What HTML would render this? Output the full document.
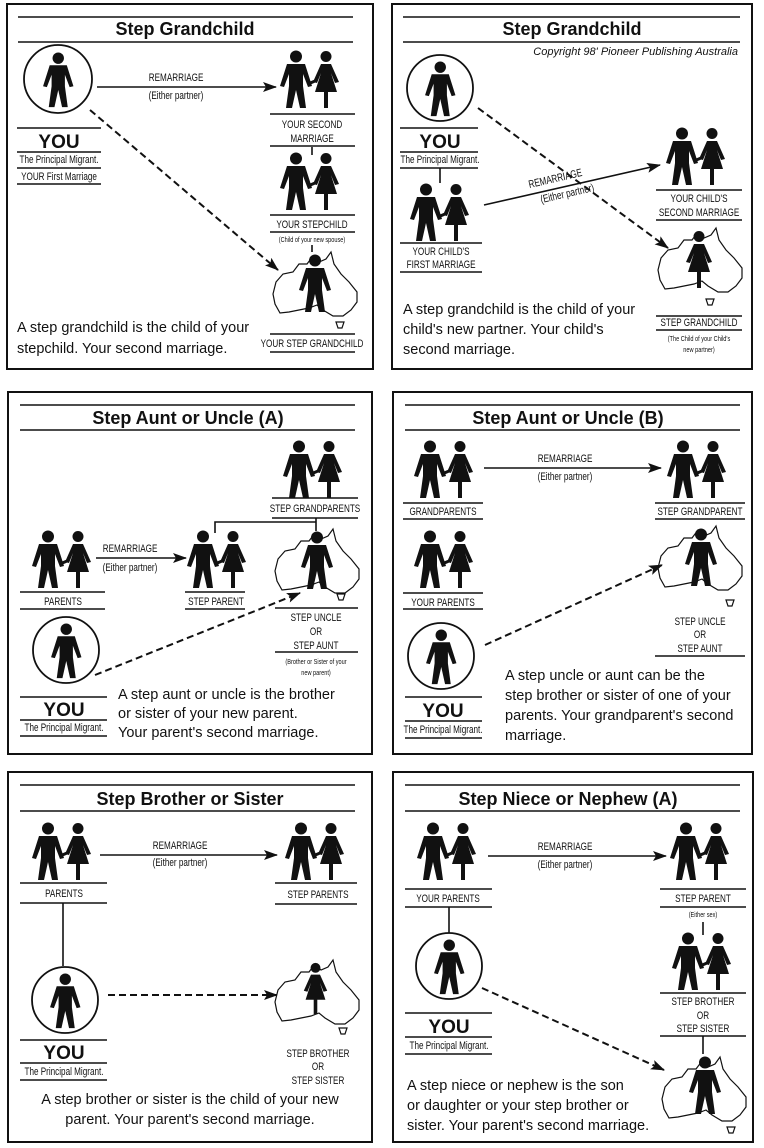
<!DOCTYPE html>
<html><head><meta charset="utf-8"><style>
html,body{margin:0;padding:0;background:#fff}
svg{display:block}
text{font-family:"Liberation Sans",Arial,sans-serif;fill:#111}
.t{font-size:18px;font-weight:bold;text-anchor:middle}
.l{font-size:11px;text-anchor:middle;transform-box:fill-box;transform-origin:center;transform:scaleX(0.74)}
.s{font-size:7px;text-anchor:middle;transform-box:fill-box;transform-origin:center;transform:scaleX(0.8)}
.b{font-size:14.5px}
.y{font-size:19px;font-weight:bold;text-anchor:middle}
.c{font-size:11px;font-style:italic;text-anchor:end}
line,.ln{stroke:#111;stroke-width:1.6}
.d{stroke:#111;stroke-width:2;stroke-dasharray:7 4;fill:none}
.a{stroke:#111;stroke-width:1.6;fill:none}
rect.box{fill:none;stroke:#111;stroke-width:2}
circle.o{fill:none;stroke:#111;stroke-width:1.8}
</style></head><body>
<svg width="764" height="1148" viewBox="0 0 764 1148" xmlns="http://www.w3.org/2000/svg">
<defs>
<g id="man"><circle cx="15" cy="6.5" r="6" fill="#111"/><path d="M6,14 L24,14 L31,36 L27,37 L22,24 L22,36 L25,58 L19,58 L15,40 L11,58 L5,58 L8,36 L8,24 L3,37 L-1,36 Z" fill="#111"/></g>
<g id="woman"><circle cx="15" cy="6.5" r="5.5" fill="#111"/><path d="M10,14 L20,14 L28,32 L24,33 L20,23 L26,42 L17,42 L17,58 L13,58 L13,42 L4,42 L10,23 L6,33 L2,32 Z" fill="#111"/></g>
<g id="couple"><use href="#man"/><use href="#woman" x="30"/><line x1="27" y1="34" x2="34" y2="31" style="stroke-width:3"/></g>
<g id="map"><path d="M5,32 L12,24 L22,22 L28,14 L36,14 L42,6 L48,12 L55,9 L60,2 L63,14 L70,24 L78,32 L86,42 L86,52 L80,60 L72,66 L62,66 L52,60 L46,55 L38,58 L28,60 L18,62 L9,63 L4,54 L2,44 Z" fill="#fff" stroke="#111" stroke-width="1.2"/></g>
<g id="tas"><path d="M0,0 L8,0 L6,6 L2,6 Z" fill="none" stroke="#111" stroke-width="1.2"/></g>
<marker id="ar" markerWidth="14" markerHeight="10" refX="13" refY="5" orient="auto" markerUnits="userSpaceOnUse"><path d="M0,0 L14,5 L0,10 L3,5 Z" fill="#111"/></marker>
</defs>

<!-- Panel 1 -->
<rect class="box" x="7" y="4" width="366" height="365"/>
<line x1="18" y1="17" x2="353" y2="17"/><line x1="18" y1="42" x2="353" y2="42"/>
<text class="t" x="185" y="35">Step Grandchild</text>
<circle class="o" cx="58" cy="79" r="34"/>
<use href="#man" transform="translate(44,52) scale(0.95)"/>
<line x1="17" y1="128" x2="101" y2="128"/><text class="y" x="59" y="148">YOU</text>
<line x1="17" y1="152" x2="101" y2="152"/><text class="l" x="59" y="163">The Principal Migrant.</text>
<line x1="17" y1="168" x2="101" y2="168"/><text class="l" x="59" y="180">YOUR First Marriage</text>
<line x1="17" y1="184" x2="101" y2="184"/>
<line x1="97" y1="87" x2="276" y2="87" marker-end="url(#ar)"/>
<text class="l" x="176" y="81">REMARRIAGE</text><text class="l" x="176" y="99">(Either partner)</text>
<use href="#couple" transform="translate(281,50)"/>
<line x1="270" y1="114" x2="355" y2="114"/><text class="l" x="312" y="128">YOUR SECOND</text><text class="l" x="312" y="142">MARRIAGE</text>
<line x1="270" y1="146" x2="355" y2="146"/><line x1="312" y1="147" x2="312" y2="155"/>
<use href="#couple" transform="translate(281,152)"/>
<line x1="270" y1="215" x2="355" y2="215"/><text class="l" x="312" y="228">YOUR STEPCHILD</text>
<line x1="270" y1="232" x2="355" y2="232"/><text class="s" x="312" y="242">(Child of your new spouse)</text>
<line x1="312" y1="245" x2="312" y2="252"/>
<use href="#map" transform="translate(271,250)"/>
<use href="#man" transform="translate(300,254)"/>
<use href="#tas" transform="translate(336,322)"/>
<line x1="270" y1="334" x2="355" y2="334"/><text class="l" x="312" y="347">YOUR STEP GRANDCHILD</text>
<line x1="270" y1="352" x2="355" y2="352"/>
<line class="d" x1="90" y1="110" x2="278" y2="270" marker-end="url(#ar)"/>
<text class="b" x="17" y="332">A step grandchild is the child of your</text>
<text class="b" x="17" y="353">stepchild. Your second marriage.</text>

<!-- Panel 2 -->
<rect class="box" x="392" y="4" width="360" height="365"/>
<line x1="403" y1="17" x2="740" y2="17"/><line x1="403" y1="42" x2="740" y2="42"/>
<text class="t" x="572" y="35">Step Grandchild</text>
<text class="c" x="738" y="55">Copyright 98' Pioneer Publishing Australia</text>
<circle class="o" cx="440" cy="88" r="33"/>
<use href="#man" transform="translate(426,61) scale(0.95)"/>
<line x1="400" y1="128" x2="478" y2="128"/><text class="y" x="440" y="148">YOU</text>
<line x1="400" y1="152" x2="478" y2="152"/><text class="l" x="440" y="163">The Principal Migrant.</text>
<line x1="400" y1="168" x2="478" y2="168"/><line x1="440" y1="168" x2="440" y2="183"/>
<use href="#couple" transform="translate(411,183)"/>
<line x1="400" y1="243" x2="482" y2="243"/><text class="l" x="441" y="255">YOUR CHILD'S</text><text class="l" x="441" y="268">FIRST MARRIAGE</text>
<line x1="400" y1="272" x2="482" y2="272"/>
<line x1="484" y1="205" x2="660" y2="165" marker-end="url(#ar)"/>
<g transform="translate(556,182) rotate(-13)"><text class="l" x="0" y="0">REMARRIAGE</text></g>
<g transform="translate(568,197) rotate(-13)"><text class="l" x="0" y="0">(Either partner)</text></g>
<use href="#couple" transform="translate(667,127)"/>
<line x1="656" y1="190" x2="742" y2="190"/><text class="l" x="699" y="202">YOUR CHILD'S</text><text class="l" x="699" y="216">SECOND MARRIAGE</text>
<line x1="656" y1="220" x2="742" y2="220"/>
<use href="#map" transform="translate(656,226)"/>
<use href="#woman" transform="translate(684,230)"/>
<use href="#tas" transform="translate(706,299)"/>
<line class="d" x1="478" y1="108" x2="668" y2="248" marker-end="url(#ar)"/>
<line x1="656" y1="316" x2="742" y2="316"/><text class="l" x="699" y="326">STEP GRANDCHILD</text>
<line x1="656" y1="330" x2="742" y2="330"/><text class="s" x="699" y="341">(The Child of your Child's</text><text class="s" x="699" y="352">new partner)</text>
<text class="b" x="403" y="314">A step grandchild is the child of your</text>
<text class="b" x="403" y="334">child's new partner. Your child's</text>
<text class="b" x="403" y="354">second marriage.</text>

<!-- Panel 3 -->
<rect class="box" x="8" y="392" width="364" height="362"/>
<line x1="20" y1="405" x2="355" y2="405"/><line x1="20" y1="430" x2="355" y2="430"/>
<text class="t" x="188" y="424">Step Aunt or Uncle (A)</text>
<use href="#couple" transform="translate(284,440)"/>
<line x1="272" y1="498" x2="358" y2="498"/><text class="l" x="315" y="512">STEP GRANDPARENTS</text>
<line x1="272" y1="518" x2="358" y2="518"/>
<polyline class="a" points="215,533 215,522 316,522"/><line x1="316" y1="518" x2="316" y2="531"/>
<use href="#couple" transform="translate(33,530)"/>
<line x1="20" y1="592" x2="105" y2="592"/><text class="l" x="63" y="605">PARENTS</text>
<line x1="20" y1="609" x2="105" y2="609"/>
<line x1="96" y1="558" x2="186" y2="558" marker-end="url(#ar)"/>
<text class="l" x="130" y="552">REMARRIAGE</text><text class="l" x="130" y="571">(Either partner)</text>
<use href="#couple" transform="translate(188,530)"/>
<line x1="185" y1="592" x2="245" y2="592"/><text class="l" x="216" y="605">STEP PARENT</text>
<line x1="185" y1="609" x2="245" y2="609"/>
<use href="#map" transform="translate(273,527)"/>
<use href="#man" transform="translate(302,531)"/>
<use href="#tas" transform="translate(337,594)"/>
<line x1="275" y1="608" x2="358" y2="608"/>
<text class="l" x="316" y="621">STEP UNCLE</text><text class="l" x="316" y="635">OR</text><text class="l" x="316" y="649">STEP AUNT</text>
<line x1="275" y1="652" x2="358" y2="652"/>
<text class="s" x="316" y="664">(Brother or Sister of your</text><text class="s" x="316" y="675">new parent)</text>
<circle class="o" cx="66" cy="650" r="33"/>
<use href="#man" transform="translate(52,623) scale(0.95)"/>
<line x1="20" y1="697" x2="107" y2="697"/><text class="y" x="64" y="716">YOU</text>
<line x1="20" y1="720" x2="107" y2="720"/><text class="l" x="64" y="731">The Principal Migrant.</text>
<line x1="20" y1="736" x2="107" y2="736"/>
<line class="d" x1="95" y1="675" x2="300" y2="593" marker-end="url(#ar)"/>
<text class="b" x="118" y="699">A step aunt or uncle is the brother</text>
<text class="b" x="118" y="718">or sister of your new parent.</text>
<text class="b" x="118" y="737">Your parent's second marriage.</text>

<!-- Panel 4 -->
<rect class="box" x="393" y="392" width="359" height="362"/>
<line x1="405" y1="405" x2="740" y2="405"/><line x1="405" y1="430" x2="740" y2="430"/>
<text class="t" x="568" y="424">Step Aunt or Uncle (B)</text>
<use href="#couple" transform="translate(415,440)"/>
<line x1="403" y1="503" x2="483" y2="503"/><text class="l" x="443" y="515">GRANDPARENTS</text>
<line x1="403" y1="519" x2="483" y2="519"/>
<line x1="484" y1="468" x2="661" y2="468" marker-end="url(#ar)"/>
<text class="l" x="565" y="462">REMARRIAGE</text><text class="l" x="565" y="480">(Either partner)</text>
<use href="#couple" transform="translate(668,440)"/>
<line x1="655" y1="503" x2="745" y2="503"/><text class="l" x="700" y="515">STEP GRANDPARENT</text>
<line x1="655" y1="519" x2="745" y2="519"/>
<use href="#couple" transform="translate(415,530)"/>
<line x1="403" y1="593" x2="483" y2="593"/><text class="l" x="443" y="606">YOUR PARENTS</text>
<line x1="403" y1="609" x2="483" y2="609"/>
<use href="#map" transform="translate(656,524)"/>
<use href="#man" transform="translate(686,528)"/>
<use href="#tas" transform="translate(726,600)"/>
<text class="l" x="700" y="625">STEP UNCLE</text><text class="l" x="700" y="638">OR</text><text class="l" x="700" y="652">STEP AUNT</text>
<line x1="655" y1="656" x2="745" y2="656"/>
<circle class="o" cx="441" cy="656" r="33"/>
<use href="#man" transform="translate(427,629) scale(0.95)"/>
<line x1="405" y1="697" x2="482" y2="697"/><text class="y" x="443" y="717">YOU</text>
<line x1="405" y1="721" x2="482" y2="721"/><text class="l" x="443" y="733">The Principal Migrant.</text>
<line x1="405" y1="738" x2="482" y2="738"/>
<line class="d" x1="485" y1="645" x2="662" y2="565" marker-end="url(#ar)"/>
<text class="b" x="505" y="680">A step uncle or aunt can be the</text>
<text class="b" x="505" y="700">step brother or sister of one of your</text>
<text class="b" x="505" y="720">parents. Your grandparent's second</text>
<text class="b" x="505" y="740">marriage.</text>

<!-- Panel 5 -->
<rect class="box" x="8" y="772" width="364" height="370"/>
<line x1="20" y1="785" x2="355" y2="785"/><line x1="20" y1="811" x2="355" y2="811"/>
<text class="t" x="190" y="805">Step Brother or Sister</text>
<use href="#couple" transform="translate(33,822)"/>
<line x1="20" y1="883" x2="107" y2="883"/><text class="l" x="64" y="897">PARENTS</text>
<line x1="20" y1="903" x2="107" y2="903"/>
<line x1="100" y1="855" x2="277" y2="855" marker-end="url(#ar)"/>
<text class="l" x="180" y="849">REMARRIAGE</text><text class="l" x="180" y="866">(Either partner)</text>
<use href="#couple" transform="translate(286,822)"/>
<line x1="275" y1="883" x2="357" y2="883"/><text class="l" x="318" y="898">STEP PARENTS</text>
<line x1="275" y1="904" x2="357" y2="904"/>
<line x1="63" y1="903" x2="63" y2="966"/>
<circle class="o" cx="65" cy="1000" r="33"/>
<use href="#man" transform="translate(51,973) scale(0.95)"/>
<line x1="20" y1="1040" x2="107" y2="1040"/><text class="y" x="64" y="1059">YOU</text>
<line x1="20" y1="1063" x2="107" y2="1063"/><text class="l" x="64" y="1075">The Principal Migrant.</text>
<line x1="20" y1="1080" x2="107" y2="1080"/>
<line class="d" x1="108" y1="995" x2="277" y2="995" marker-end="url(#ar)"/>
<use href="#map" transform="translate(273,958)"/>
<use href="#woman" transform="translate(302,962) scale(0.9)"/>
<use href="#tas" transform="translate(339,1028)"/>
<text class="l" x="318" y="1057">STEP BROTHER</text><text class="l" x="318" y="1070">OR</text><text class="l" x="318" y="1084">STEP SISTER</text>
<text class="b" x="190" y="1104" style="text-anchor:middle">A step brother or sister is the child of your new</text>
<text class="b" x="190" y="1124" style="text-anchor:middle">parent. Your parent's second marriage.</text>

<!-- Panel 6 -->
<rect class="box" x="393" y="772" width="360" height="370"/>
<line x1="405" y1="785" x2="740" y2="785"/><line x1="405" y1="811" x2="740" y2="811"/>
<text class="t" x="568" y="805">Step Niece or Nephew (A)</text>
<use href="#couple" transform="translate(418,822)"/>
<line x1="405" y1="889" x2="492" y2="889"/><text class="l" x="448" y="902">YOUR PARENTS</text>
<line x1="405" y1="907" x2="492" y2="907"/>
<line x1="488" y1="856" x2="666" y2="856" marker-end="url(#ar)"/>
<text class="l" x="565" y="850">REMARRIAGE</text><text class="l" x="565" y="868">(Either partner)</text>
<use href="#couple" transform="translate(671,822)"/>
<line x1="660" y1="889" x2="746" y2="889"/><text class="l" x="703" y="902">STEP PARENT</text>
<line x1="660" y1="907" x2="746" y2="907"/>
<text class="s" x="703" y="917">(Either sex)</text>
<line x1="703" y1="922" x2="703" y2="935"/>
<use href="#couple" transform="translate(673,932)"/>
<line x1="660" y1="993" x2="746" y2="993"/>
<text class="l" x="703" y="1005">STEP BROTHER</text><text class="l" x="703" y="1019">OR</text><text class="l" x="703" y="1032">STEP SISTER</text>
<line x1="660" y1="1036" x2="746" y2="1036"/><line x1="703" y1="1036" x2="703" y2="1054"/>
<line x1="449" y1="907" x2="449" y2="933"/>
<circle class="o" cx="449" cy="966" r="33"/>
<use href="#man" transform="translate(435,939) scale(0.95)"/>
<line x1="405" y1="1013" x2="492" y2="1013"/><text class="y" x="449" y="1033">YOU</text>
<line x1="405" y1="1037" x2="492" y2="1037"/><text class="l" x="449" y="1049">The Principal Migrant.</text>
<line x1="405" y1="1054" x2="492" y2="1054"/>
<line class="d" x1="482" y1="988" x2="664" y2="1070" marker-end="url(#ar)"/>
<use href="#map" transform="translate(660,1055)"/>
<use href="#man" transform="translate(690,1056)"/>
<use href="#tas" transform="translate(727,1127)"/>
<text class="b" x="407" y="1090">A step niece or nephew is the son</text>
<text class="b" x="407" y="1110">or daughter or your step brother or</text>
<text class="b" x="407" y="1130">sister. Your parent's second marriage.</text>
</svg>
</body></html>
